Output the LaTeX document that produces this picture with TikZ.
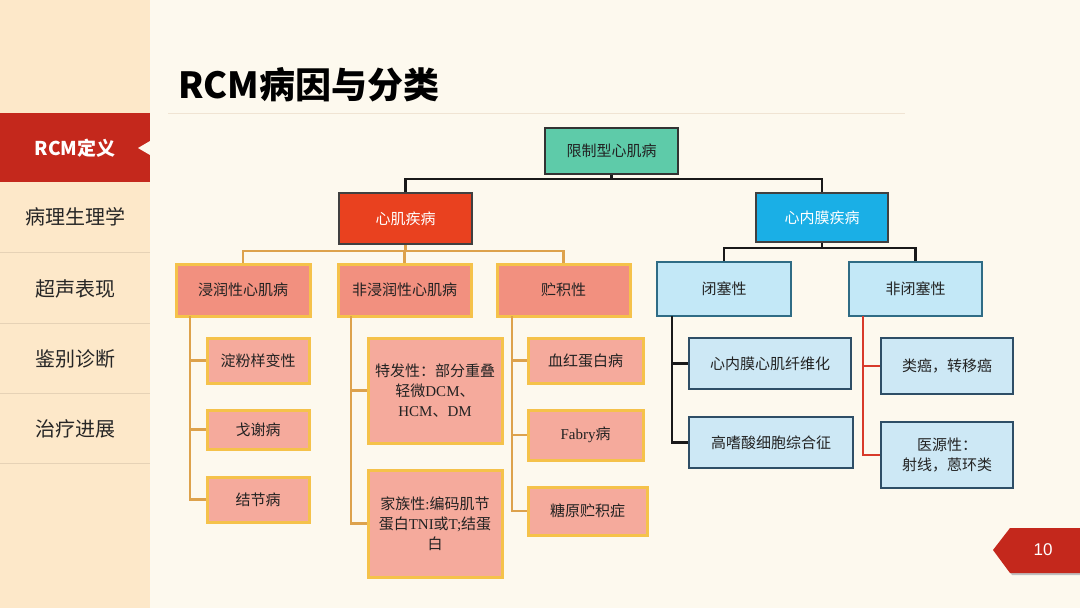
\documentclass[tikz,border=0pt]{standalone}
\usepackage{fontspec}
\setmainfont{Noto Sans CJK SC}
\newfontfamily\ls{Liberation Serif}
\newfontfamily\la{Liberation Sans}
\definecolor{bgc}{HTML}{FDF9EE}
\definecolor{sidec}{HTML}{FDE8C9}
\definecolor{redc}{HTML}{C4281C}
\definecolor{sepc}{HTML}{E6D2B6}
\definecolor{teal}{HTML}{5ECBA9}
\definecolor{myoc}{HTML}{E9411F}
\definecolor{endoc}{HTML}{1AAFE6}
\definecolor{salm}{HTML}{F2907F}
\definecolor{salml}{HTML}{F5AA9C}
\definecolor{gold}{HTML}{F5C24A}
\definecolor{goldline}{HTML}{DDA24C}
\definecolor{lblue}{HTML}{C3E8F7}
\definecolor{lbluel}{HTML}{CDE8F5}
\definecolor{bluebd}{HTML}{2F6C85}
\definecolor{navybd}{HTML}{2E4E66}
\definecolor{redline}{HTML}{D83A2A}
\definecolor{txt}{HTML}{222222}
\tikzset{
  box/.style={draw, rectangle, inner sep=2pt, align=center, text=txt, font=\fontsize{15}{20}\selectfont},
  rootbox/.style={box, fill=teal, draw=black!80, line width=2pt},
  myobox/.style={box, fill=myoc, draw=black!75, line width=2pt, text=white},
  endobox/.style={box, fill=endoc, draw=black!75, line width=2pt, text=white},
  redmid/.style={box, fill=salm, draw=gold, line width=3pt},
  redleaf/.style={box, fill=salml, draw=gold, line width=3pt},
  bluemid/.style={box, fill=lblue, draw=bluebd, line width=2pt},
  blueleaf/.style={box, fill=lbluel, draw=navybd, line width=2pt},
  blk/.style={draw=black!90, line width=2.2pt},
  gln/.style={draw=goldline, line width=2.5pt},
  rln/.style={draw=redline, line width=2.2pt},
  menu/.style={font=\fontsize{20}{24}\selectfont, text=black!85},
  sep/.style={draw=sepc, line width=1pt}
}
\begin{document}
\begin{tikzpicture}[x=1pt,y=-1pt]
\useasboundingbox (0,0) rectangle (1080,608);
% backgrounds
\fill[bgc] (0,0) rectangle (1080,608);
\fill[sidec] (0,0) rectangle (150,608);
\fill[redc] (0,113) rectangle (150,182);
\fill[bgc] (138,148) -- (150,141) -- (150,155) -- cycle;
\node[font=\fontsize{19}{22}\selectfont\bfseries, text=white] (m0) at (75,148) {RCM定义};
\node[menu] (m1) at (75,217) {病理生理学};
\node[menu] (m2) at (75,289) {超声表现};
\node[menu] (m3) at (75,359) {鉴别诊断};
\node[menu] (m4) at (75,429) {治疗进展};
\foreach \yy in {252,323,393,463} \draw[sep] (0,\yy) -- (150,\yy);
% title
\node[anchor=west, font=\fontsize{36}{40}\selectfont\bfseries, text=black, inner sep=0pt] (title) at (178,85) {RCM病因与分类};
\draw[draw=sepc!60, line width=0.8pt] (168,113) -- (905,113);
% page tag
\fill[black!25] (995,552) -- (1012,530) -- (1080,530) -- (1080,575) -- (1012,575) -- cycle;
\fill[redc] (993,550) -- (1010,528) -- (1080,528) -- (1080,573) -- (1010,573) -- cycle;
\node[font=\la\fontsize{17}{20}\selectfont, text=white] (pg) at (1043,550) {10};
% level 0/1
\node[rootbox, minimum width=133pt, minimum height=46pt] (root) at (611.5,151) {限制型心肌病};
\node[myobox, minimum width=133pt, minimum height=51pt] (xj) at (405.5,218.5) {心肌疾病};
\node[endobox, minimum width=132pt, minimum height=49pt] (nm) at (822,217.5) {心内膜疾病};
% level 2
\node[redmid, minimum width=134pt, minimum height=52pt] (jr) at (243,290) {浸润性心肌病};
\node[redmid, minimum width=133pt, minimum height=52pt] (fjr) at (404.5,290) {非浸润性心肌病};
\node[redmid, minimum width=133pt, minimum height=52pt] (zj) at (563.5,290) {贮积性};
\node[bluemid, minimum width=134pt, minimum height=54pt] (bs) at (724,289) {闭塞性};
\node[bluemid, minimum width=133pt, minimum height=54pt] (fbs) at (915.5,289) {非闭塞性};
% leaves
\node[redleaf, minimum width=102pt, minimum height=45pt] (a1) at (258,360.5) {淀粉样变性};
\node[redleaf, minimum width=102pt, minimum height=39pt] (a2) at (258,429.5) {戈谢病};
\node[redleaf, minimum width=102pt, minimum height=45pt] (a3) at (258,499.5) {结节病};
\node[redleaf, minimum width=134pt, minimum height=105pt] (b1) at (435,390.5) {特发性：部分重叠\\轻微{\ls DCM}、\\{\ls HCM}、{\ls DM}};
\node[redleaf, minimum width=134pt, minimum height=107pt] (b2) at (435,523.5) {家族性{\ls :}编码肌节\\蛋白{\ls TNI}或{\ls T;}结蛋\\白};
\node[redleaf, minimum width=115pt, minimum height=45pt] (c1) at (585.5,360.5) {血红蛋白病};
\node[redleaf, minimum width=115pt, minimum height=50pt] (c2) at (585.5,435) {{\ls Fabry}病};
\node[redleaf, minimum width=119pt, minimum height=48pt] (c3) at (587.5,511) {糖原贮积症};
\node[blueleaf, minimum width=162pt, minimum height=51pt] (d1) at (770,363.5) {心内膜心肌纤维化};
\node[blueleaf, minimum width=164pt, minimum height=51pt] (d2) at (771,442.5) {高嗜酸细胞综合征};
\node[blueleaf, minimum width=132pt, minimum height=56pt] (e1) at (947,366) {类癌，转移癌};
\node[blueleaf, minimum width=132pt, minimum height=66pt] (e2) at (947,455) {医源性：\\射线，蒽环类};
% bus coordinates
\coordinate (bus1) at (611.5,179);
\coordinate (bus2) at (405.5,251);
\coordinate (bus3) at (822,248);
\coordinate (v1) at (190,316);
\coordinate (v2) at (351,316);
\coordinate (v3) at (512,316);
\coordinate (v4) at (672,316);
\coordinate (v5) at (863,316);
% connectors level 0-1
\draw[blk] (root.south) -- (root.south |- bus1);
\draw[blk] (xj.north) |- (bus1) -| (nm.north);
\draw[gln] (xj.south) -- (xj.south |- bus2);
\draw[gln] (jr.north) |- (bus2) -| (zj.north);
\draw[gln] (fjr.north) -- (fjr.north |- bus2);
\draw[blk] (nm.south) -- (nm.south |- bus3);
\draw[blk] (bs.north) |- (bus3) -| (fbs.north);
% leaves
\draw[gln] (v1) -- (v1 |- a3.west) -- (a3.west);
\draw[gln] (v1 |- a1.west) -- (a1.west);
\draw[gln] (v1 |- a2.west) -- (a2.west);
\draw[gln] (v2) -- (v2 |- b2.west) -- (b2.west);
\draw[gln] (v2 |- b1.west) -- (b1.west);
\draw[gln] (v3) -- (v3 |- c3.west) -- (c3.west);
\draw[gln] (v3 |- c1.west) -- (c1.west);
\draw[gln] (v3 |- c2.west) -- (c2.west);
\draw[blk] (v4) -- (v4 |- d2.west) -- (d2.west);
\draw[blk] (v4 |- d1.west) -- (d1.west);
\draw[rln] (v5) -- (v5 |- e2.west) -- (e2.west);
\draw[rln] (v5 |- e1.west) -- (e1.west);
\end{tikzpicture}
\end{document}
